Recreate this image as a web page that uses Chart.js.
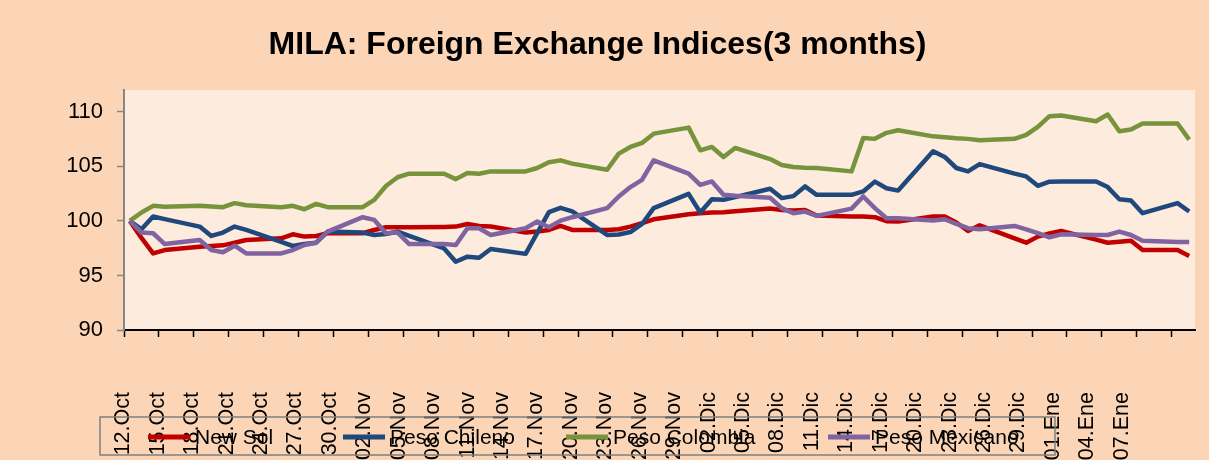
<!DOCTYPE html>
<html>
<head>
<meta charset="utf-8">
<script src="https://cdn.jsdelivr.net/npm/chart.js@4.4.0/dist/chart.umd.min.js"></script>
<style>
  html, body { margin: 0; padding: 0; background: #FBD5B5; }
  canvas { display: block; }
</style>
</head>
<body>
<canvas id="c" width="1209" height="460"></canvas>
<script>
// ---------------- DATA ----------------
const chartTitle = 'MILA: Foreign Exchange Indices(3 months)';
const startDate = '2021-10-12';

const dates = [
  '2021-10-12','2021-10-13','2021-10-14','2021-10-15',
  '2021-10-18','2021-10-19','2021-10-20','2021-10-21','2021-10-22',
  '2021-10-25','2021-10-26','2021-10-27','2021-10-28','2021-10-29',
  '2021-11-01','2021-11-02','2021-11-03','2021-11-04','2021-11-05',
  '2021-11-08','2021-11-09','2021-11-10','2021-11-11','2021-11-12',
  '2021-11-15','2021-11-16','2021-11-17','2021-11-18','2021-11-19',
  '2021-11-22','2021-11-23','2021-11-24','2021-11-25','2021-11-26',
  '2021-11-29','2021-11-30','2021-12-01','2021-12-02','2021-12-03',
  '2021-12-06','2021-12-07','2021-12-08','2021-12-09','2021-12-10',
  '2021-12-13','2021-12-14','2021-12-15','2021-12-16','2021-12-17',
  '2021-12-20','2021-12-21','2021-12-22','2021-12-23','2021-12-24',
  '2021-12-27','2021-12-28','2021-12-29','2021-12-30','2021-12-31',
  '2022-01-03','2022-01-04','2022-01-05','2022-01-06','2022-01-07',
  '2022-01-10','2022-01-11'
];

const seriesNames = ['New Sol', 'Peso Chileno', 'Peso Colombia', 'Peso Mexicano'];

const newSol = [
  100.00, 98.44, 97.02, 97.33,
  97.64, 97.70, 97.76, 98.00, 98.25,
  98.40, 98.77, 98.56, 98.62, 98.87,
  98.87, 99.17, 99.42, 99.42, 99.42,
  99.45, 99.48, 99.72, 99.54, 99.48,
  98.93, 99.02, 99.17, 99.54, 99.17,
  99.17, 99.23, 99.48, 99.79, 100.15,
  100.61, 100.71, 100.77, 100.80, 100.89,
  101.13, 101.01, 100.95, 101.00, 100.50,
  100.40, 100.40, 100.34, 99.97, 99.94,
  100.40, 100.40, 99.85, 99.08, 99.60,
  98.40, 98.00, 98.56, 98.85, 99.08,
  98.28, 98.00, 98.10, 98.19, 97.33,
  97.33, 96.78
];

const pesoChileno = [
  100.00, 99.23, 100.40, 100.16,
  99.48, 98.62, 98.93, 99.48, 99.17,
  98.07, 97.70, 97.88, 98.00, 99.02,
  98.93, 98.71, 98.80, 99.02, 98.62,
  97.48, 96.26, 96.72, 96.62, 97.42,
  96.98, 98.90, 100.80, 101.20, 100.88,
  98.71, 98.75, 98.98, 99.72, 101.17,
  102.48, 100.77, 101.99, 101.93, 102.18,
  102.95, 102.09, 102.27, 103.16, 102.39,
  102.39, 102.70, 103.60, 103.00, 102.78,
  106.38, 105.86, 104.85, 104.54, 105.21,
  104.33, 104.08, 103.22, 103.59, 103.62,
  103.62, 103.10, 101.99, 101.87, 100.71,
  101.63, 100.86
];

const pesoColombia = [
  100.00, 100.77, 101.38, 101.30,
  101.38, 101.32, 101.26, 101.63, 101.44,
  101.26, 101.38, 101.07, 101.56, 101.26,
  101.26, 101.93, 103.20, 104.00, 104.33,
  104.33, 103.83, 104.39, 104.33, 104.54,
  104.54, 104.85, 105.37, 105.55, 105.25,
  104.69, 106.17, 106.78, 107.15, 108.00,
  108.55, 106.47, 106.78, 105.86, 106.69,
  105.67, 105.12, 104.94, 104.88, 104.85,
  104.54, 107.61, 107.52, 108.07, 108.31,
  107.75, 107.67, 107.58, 107.52, 107.39,
  107.52, 107.88, 108.62, 109.60, 109.66,
  109.14, 109.75, 108.22, 108.37, 108.93,
  108.93, 107.45
];

const pesoMexicano = [
  100.00, 98.93, 98.87, 97.88,
  98.25, 97.33, 97.12, 97.73, 97.02,
  97.02, 97.33, 97.79, 98.00, 99.02,
  100.34, 100.09, 98.87, 98.93, 97.88,
  97.88, 97.79, 99.33, 99.33, 98.71,
  99.33, 99.94, 99.42, 100.03, 100.34,
  101.17, 102.24, 103.10, 103.77, 105.55,
  104.33, 103.31, 103.62, 102.39, 102.30,
  102.12, 101.17, 100.71, 100.86, 100.46,
  101.13, 102.24, 101.17, 100.25, 100.25,
  100.03, 100.15, 99.72, 99.33, 99.23,
  99.54, 99.23, 98.87, 98.50, 98.77,
  98.71, 98.71, 99.02, 98.71, 98.19,
  98.07, 98.07
];

const tickLabels = [
  '12.Oct','15.Oct','18.Oct','21.Oct','24.Oct','27.Oct','30.Oct',
  '02.Nov','05.Nov','08.Nov','11.Nov','14.Nov','17.Nov','20.Nov','23.Nov','26.Nov','29.Nov',
  '02.Dic','05.Dic','08.Dic','11.Dic','14.Dic','17.Dic','20.Dic','23.Dic','26.Dic','29.Dic',
  '01.Ene','04.Ene','07.Ene'
];

const yTickValues = [90, 95, 100, 105, 110];

// ---------------- STYLE ----------------
const FONT = "'Liberation Sans', Arial, sans-serif";
const seriesColors = ['#C00000', '#1F497D', '#77933C', '#8064A2'];
const drawOrder = [3, 2, 1, 0];          // purple on top, red at bottom
const legendSwatchX = [148, 343, 566, 828];

// ---------------- BUILD ----------------
const DAY = 86400000;
const dayIndex = s => (Date.parse(s) - Date.parse(startDate)) / DAY;
const seriesValues = [newSol, pesoChileno, pesoColombia, pesoMexicano];

const datasets = seriesValues.map((vals, i) => ({
  label: seriesNames[i],
  data: dates.map((d, j) => ({ x: dayIndex(d), y: vals[j] })),
  borderColor: seriesColors[i],
  backgroundColor: seriesColors[i],
  borderWidth: 4.5,
  pointRadius: 0,
  tension: 0,
  fill: false,
  order: drawOrder[i],
  borderJoinStyle: 'round',
  xAxisID: 'x',
  yAxisID: 'y'
}));

const xMin = -0.5, xMax = dayIndex('2022-01-11') + 0.5;

const bgPlugin = {
  id: 'bg',
  beforeDraw(chart) {
    const { ctx, chartArea: a } = chart;
    ctx.save();
    ctx.fillStyle = '#FBD5B5';
    ctx.fillRect(0, 0, chart.width, chart.height);
    ctx.fillStyle = '#FDEBDD';
    ctx.fillRect(a.left, a.top, a.right - a.left, a.bottom - a.top);
    ctx.restore();
  }
};

const boxLegend = {
  id: 'boxLegend',
  afterDraw(chart) {
    const ctx = chart.ctx;
    ctx.save();
    ctx.strokeStyle = '#7F7F7F';
    ctx.lineWidth = 1.5;
    ctx.strokeRect(100, 417, 955, 38);
    ctx.font = '21px ' + FONT;
    ctx.textBaseline = 'middle';
    ctx.textAlign = 'left';
    chart.data.datasets.forEach((ds, i) => {
      const x = legendSwatchX[i];
      ctx.strokeStyle = ds.borderColor;
      ctx.lineWidth = 5;
      ctx.beginPath();
      ctx.moveTo(x, 437);
      ctx.lineTo(x + 42, 437);
      ctx.stroke();
      ctx.fillStyle = '#000';
      ctx.fillText(ds.label, x + 47, 438);
    });
    ctx.restore();
  }
};

new Chart(document.getElementById('c'), {
  type: 'line',
  data: { datasets },
  options: {
    responsive: false,
    devicePixelRatio: 1,
    animation: false,
    layout: { padding: { left: 0, right: 14, top: 0, bottom: 0 } },
    plugins: {
      legend: { display: false },
      tooltip: { enabled: false },
      title: {
        display: true,
        text: chartTitle,
        color: '#000',
        font: { family: FONT, size: 32, weight: 'bold', lineHeight: 1.2 },
        padding: { top: 26, bottom: 25.6 }
      }
    },
    scales: {
      x: {
        type: 'linear',
        position: 'bottom',
        weight: 0,
        min: xMin,
        max: xMax,
        afterBuildTicks: axis => {
          const t = [];
          for (let v = xMin; v <= xMax; v += 3) t.push({ value: v });
          axis.ticks = t;
        },
        afterFit: s => { s.height = 7; s.paddingLeft = 0; s.paddingRight = 0; },
        ticks: { display: false },
        grid: { drawOnChartArea: false, drawTicks: true, tickLength: 7, tickColor: '#000', tickWidth: 1.5 },
        border: { display: true, color: '#000', width: 2 }
      },
      xl: {
        type: 'linear',
        position: 'bottom',
        weight: 1,
        min: (124 - 123.3) / 34.43,
        max: (1195 - 123.3) / 34.43,
        afterBuildTicks: axis => { axis.ticks = tickLabels.map((_, k) => ({ value: k })); },
        afterFit: s => { s.height = 123; s.paddingLeft = 0; s.paddingRight = 0; },
        ticks: {
          autoSkip: false,
          minRotation: 90,
          maxRotation: 90,
          padding: 55,
          color: '#000',
          font: { family: FONT, size: 21.5 },
          callback: v => tickLabels[v] ?? ''
        },
        grid: { display: false, drawTicks: false, drawOnChartArea: false },
        border: { display: false }
      },
      y: {
        type: 'linear',
        position: 'left',
        min: 90,
        max: 112,
        afterBuildTicks: axis => { axis.ticks = yTickValues.map(v => ({ value: v })); },
        afterFit: s => { s.width = 124; },
        ticks: { color: '#000', padding: 14, font: { family: FONT, size: 22 } },
        grid: { drawOnChartArea: false, drawTicks: true, tickLength: 7, tickColor: '#868686', tickWidth: 1.5 },
        border: { display: true, color: '#868686', width: 2 }
      }
    }
  },
  plugins: [bgPlugin, boxLegend]
});
</script>
</body>
</html>
